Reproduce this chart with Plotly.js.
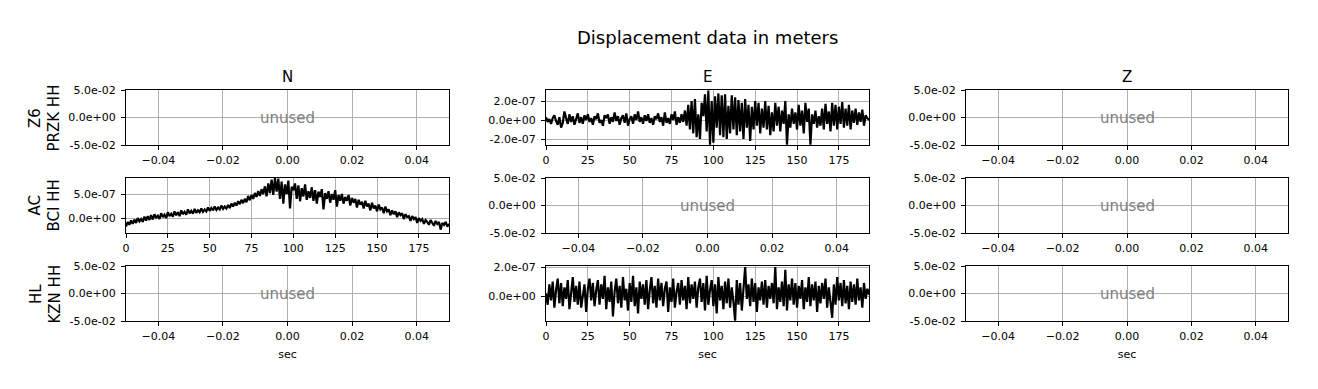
<!DOCTYPE html>
<html>
<head>
<meta charset="utf-8">
<script src="https://cdn.plot.ly/plotly-3.0.1.min.js"></script>
<style>html,body{margin:0;padding:0;background:#fff;}#chart{width:1318px;height:389px;}</style>
</head>
<body>
<div id="chart"></div>
<script>
// ---------------- DATA ----------------
const figTitle = "Displacement data in meters";
const componentTitles = ["N", "E", "Z"];
const stationLabels = ["Z6<br>PRZK HH", "AC<br>BCI HH", "HL<br>KZN HH"];
const xAxisLabel = "sec";
const unusedText = "unused";

// sample interval (s); values below are displacement in units of 1e-8 m
const sampleInterval = 1;
const valueScale = 1e-8;

// Z6 PRZK HH, E component (t = 0..193 s)
const przkE = [
 3,-2,1,-4,2,5,-1,-5,3,-8,
 -3,9,2,-4,6,-2,4,-5,1,7,
 -3,3,-4,5,0,6,-2,2,-5,4,
 1,7,-3,0,-6,5,2,6,-4,3,
 -2,8,-1,4,-5,2,5,-3,7,-6,
 1,4,-4,6,0,9,-2,3,-4,5,
 -1,6,-3,2,-5,4,1,7,-2,3,
 -6,8,-3,2,-4,6,0,9,-5,3,
 -3,6,-2,10,-6,16,-10,20,-14,22,
 -18,6,-20,18,4,27,-12,31,-26,20,
 -24,25,-8,28,-16,26,-18,27,-20,15,
 -14,26,-10,24,-16,21,-12,18,-20,22,
 -8,16,-22,14,-10,20,-6,18,-14,12,
 -8,20,-10,15,-16,8,-12,18,-6,14,
 -12,10,-4,20,-26,6,-8,12,-4,8,
 -10,16,-6,10,-14,18,-2,12,-26,6,
 -4,10,-8,4,-6,12,-10,17,-4,9,
 -12,18,-6,16,-10,14,-4,19,-8,12,
 -6,16,-10,10,-3,12,-5,8,-2,11,
 -6,5,2,0
];

// AC BCI HH, N component (t = 0..193 s)
const bciN = [
 -18,-8,-14,-5,-12,-3,-10,0,-7,-2,
 -8,3,-5,4,-4,6,-3,8,1,5,
 -2,10,2,7,0,12,4,9,3,14,
 6,12,4,16,8,13,7,18,10,15,
 9,19,11,16,12,20,13,18,14,22,
 15,21,16,24,17,22,18,26,19,24,
 20,27,21,30,24,32,26,35,29,38,
 31,40,33,46,37,48,40,52,44,56,
 46,60,50,66,45,72,52,80,48,83,
 55,82,40,76,30,70,50,78,20,65,
 58,72,40,68,35,62,45,70,38,56,
 42,64,36,58,30,55,44,60,18,52,
 40,56,32,50,38,58,24,48,36,50,
 30,44,36,48,26,42,32,40,22,38,
 28,34,20,36,24,30,16,32,20,26,
 14,28,18,22,10,24,14,18,6,16,
 8,14,2,12,6,10,-2,8,2,4,
 -6,4,-2,2,-10,0,-6,-2,-12,-4,
 -8,-14,-4,-10,-16,-6,-12,-8,-24,-10,
 -14,-8,-18,-12
];

// HL KZN HH, E component (t = 0..193 s)
const kznE = [
 2,-6,8,-3,10,-8,4,12,-5,9,
 -7,6,-2,11,-9,3,13,-4,7,-6,
 10,-8,2,8,-11,5,12,-3,9,-7,
 4,11,-6,8,-2,14,-9,6,-4,10,
 -14,3,12,-5,7,-8,13,-3,5,-10,
 9,-4,14,-7,6,-12,10,-2,8,-6,
 11,-9,4,13,-5,7,-8,12,-3,9,
 -7,5,10,-11,6,-4,12,-8,3,9,
 -6,11,-3,7,-9,13,-5,8,-2,10,
 -8,6,12,-4,9,-10,14,-6,4,11,
 -7,8,-12,13,-3,7,-9,10,-5,12,
 -8,6,-4,-17,11,-6,9,-10,5,20,
 -2,8,-7,12,-4,9,-11,6,-3,10,
 -6,11,-8,7,-2,9,-5,20,-9,6,
 -4,10,-7,18,-10,8,-3,12,-6,9,
 -8,7,-2,11,-9,6,-4,13,-7,8,
 -3,10,-11,7,-5,9,-2,12,-8,6,
 -4,-15,8,-6,13,-3,9,-7,11,-5,
 7,-9,10,-4,8,-6,12,-3,6,-8,
 9,-2,5,1
];

// tick labels
const dataXTicks = [0, 25, 50, 75, 100, 125, 150, 175];
const unusedXTicks = [-0.04, -0.02, 0, 0.02, 0.04];
const unusedYTicks = [-0.05, 0, 0.05];
const unusedYTickText = ["-5.0e-02", "0.0e+00", "5.0e-02"];
const przkYTicks = [-2e-7, 0, 2e-7];
const przkYTickText = ["-2.0e-07", "0.0e+00", "2.0e-07"];
const bciYTicks = [0, 5e-7];
const bciYTickText = ["0.0e+00", "5.0e-07"];
const kznYTicks = [0, 2e-7];
const kznYTickText = ["0.0e+00", "2.0e-07"];

// ---------------- LAYOUT ----------------
const W = 1318, H = 389;
const colPx = [[126, 449], [546, 869], [966, 1288]];
const rowPx = [[90, 145], [178, 233], [266, 321]];
const FONT = "DejaVu Sans, sans-serif";

function toMeters(arr) { return arr.map(v => v * valueScale); }
function times(arr) { return arr.map((_, i) => i * sampleInterval); }

const panels = {
  "0,1": { y: przkE, yrange: [-2.63e-7, 3.16e-7], yticks: przkYTicks, ytext: przkYTickText },
  "1,0": { y: bciN, yrange: [-3.1e-7, 8.33e-7], yticks: bciYTicks, ytext: bciYTickText },
  "2,1": { y: kznE, yrange: [-1.72e-7, 2.07e-7], yticks: kznYTicks, ytext: kznYTickText }
};

const traces = [];
const layout = {
  width: W, height: H,
  margin: { l: 0, r: 0, t: 0, b: 0 },
  paper_bgcolor: "#fff", plot_bgcolor: "#fff",
  showlegend: false,
  font: { family: FONT, size: 11, color: "#000" },
  annotations: []
};

const axBase = {
  showline: true, mirror: true, linecolor: "#000", linewidth: 1,
  ticks: "outside", ticklen: 4, tickwidth: 1, tickcolor: "#000",
  showgrid: true, gridcolor: "#b0b0b0", gridwidth: 1,
  zeroline: false, fixedrange: true,
  tickfont: { family: FONT, size: 11, color: "#000" }
};

for (let r = 0; r < 3; r++) {
  for (let c = 0; c < 3; c++) {
    const k = r * 3 + c + 1;
    const xa = "xaxis" + (k === 1 ? "" : k), ya = "yaxis" + (k === 1 ? "" : k);
    const xr = "x" + (k === 1 ? "" : k), yr = "y" + (k === 1 ? "" : k);
    const p = panels[r + "," + c];
    const xax = Object.assign({}, axBase, {
      domain: [colPx[c][0] / W, colPx[c][1] / W], anchor: yr, ticklabelstandoff: 1
    });
    const yax = Object.assign({}, axBase, {
      domain: [1 - rowPx[r][1] / H, 1 - rowPx[r][0] / H], anchor: xr, ticklabelstandoff: 3
    });
    if (p) {
      const t = times(p.y);
      xax.range = [0, t[t.length - 1]];
      xax.tickmode = "array"; xax.tickvals = dataXTicks; xax.ticktext = dataXTicks.map(String);
      yax.range = p.yrange;
      yax.tickmode = "array"; yax.tickvals = p.yticks; yax.ticktext = p.ytext;
      traces.push({
        type: "scatter", mode: "lines", x: t, y: toMeters(p.y),
        xaxis: xr, yaxis: yr,
        line: { color: "#000", width: 2.2 }, hoverinfo: "skip"
      });
    } else {
      xax.range = [-0.05, 0.05];
      xax.tickmode = "array"; xax.tickvals = unusedXTicks;
      xax.ticktext = unusedXTicks.map(v => v.toFixed(2).replace("-", "\u2212"));
      yax.range = [-0.05, 0.05];
      yax.tickmode = "array"; yax.tickvals = unusedYTicks; yax.ticktext = unusedYTickText;
      traces.push({ type: "scatter", mode: "lines", x: [], y: [], xaxis: xr, yaxis: yr });
      layout.annotations.push({
        xref: xr, yref: yr, x: 0, y: 0, text: unusedText, showarrow: false,
        font: { family: FONT, size: 15, color: "#808080" }
      });
    }
    if (r === 2) {
      xax.title = { text: xAxisLabel, font: { family: FONT, size: 11, color: "#000" }, standoff: 8 };
    }
    layout[xa] = xax;
    layout[ya] = yax;
  }
}

// figure title
layout.annotations.push({
  xref: "paper", yref: "paper", x: 707 / W, y: 1 - 38 / H, text: figTitle,
  showarrow: false, xanchor: "center", yanchor: "middle",
  font: { family: FONT, size: 18, color: "#000" }
});
// column titles
componentTitles.forEach((txt, c) => {
  layout.annotations.push({
    xref: "paper", yref: "paper", x: (colPx[c][0] + colPx[c][1]) / 2 / W, y: 1 - 77 / H,
    text: txt, showarrow: false, xanchor: "center", yanchor: "middle",
    font: { family: FONT, size: 15, color: "#000" }
  });
});
// row labels
stationLabels.forEach((txt, r) => {
  layout.annotations.push({
    xref: "paper", yref: "paper", x: 45 / W, y: 1 - (rowPx[r][0] + rowPx[r][1]) / 2 / H,
    text: txt, showarrow: false, textangle: -90, xanchor: "center", yanchor: "middle",
    font: { family: FONT, size: 15, color: "#000" }
  });
});

Plotly.newPlot("chart", traces, layout, { staticPlot: true, displayModeBar: false });
</script>
</body>
</html>
